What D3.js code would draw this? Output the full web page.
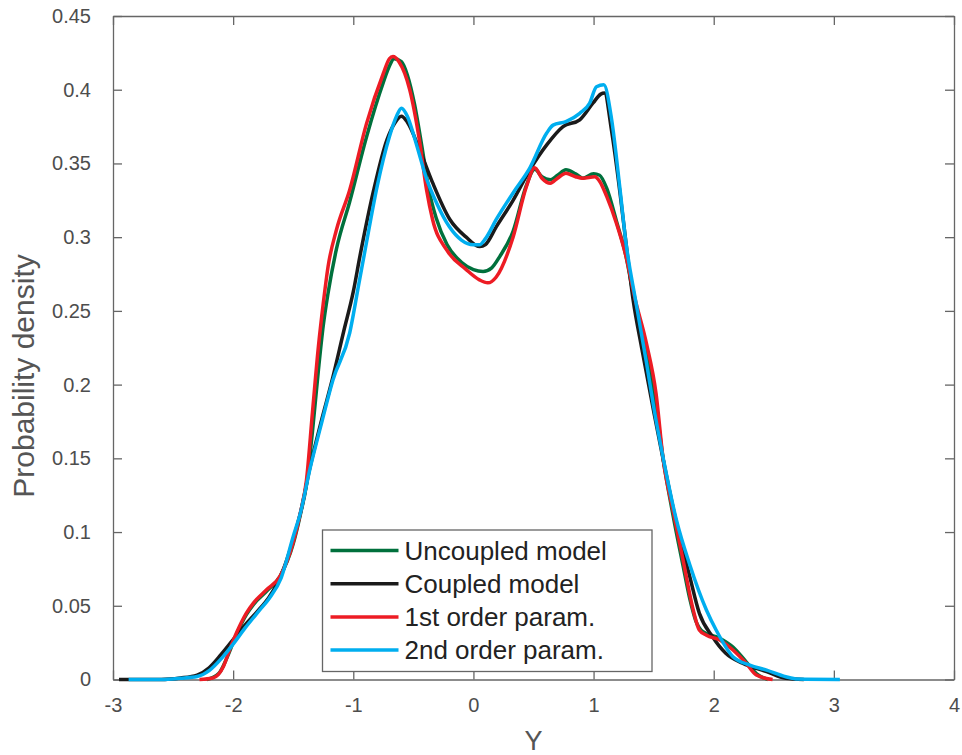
<!DOCTYPE html>
<html>
<head>
<meta charset="utf-8">
<script src="https://cdn.jsdelivr.net/npm/d3@7"></script>
<style>
  body { margin: 0; background: #fff; }
  svg { display: block; font-family: "Liberation Sans", Arial, sans-serif; }
</style>
</head>
<body>
<svg id="chart" width="962" height="755"></svg>
<script>
const xTicks = [-3, -2, -1, 0, 1, 2, 3, 4];
const yTicks = [0, 0.05, 0.1, 0.15, 0.2, 0.25, 0.3, 0.35, 0.4, 0.45];

// [Y, density]
const uncoupled = [[-2.22,0],[-2.12,0.004],[-2.05,0.015],[-1.97,0.031],[-1.89,0.044],[-1.83,0.051],[-1.72,0.06],[-1.61,0.07],[-1.5,0.092],[-1.44,0.112],[-1.39,0.132],[-1.34,0.168],[-1.29,0.21],[-1.25,0.24],[-1.21,0.262],[-1.14,0.292],[-1.03,0.324],[-0.89,0.368],[-0.75,0.405],[-0.7,0.416],[-0.66,0.421],[-0.6,0.419],[-0.55,0.41],[-0.49,0.39],[-0.43,0.362],[-0.37,0.332],[-0.31,0.313],[-0.22,0.295],[-0.1,0.283],[0,0.278],[0.08,0.2767],[0.15,0.279],[0.22,0.287],[0.33,0.304],[0.44,0.335],[0.51,0.346],[0.57,0.341],[0.64,0.339],[0.7,0.342],[0.77,0.3457],[0.85,0.343],[0.91,0.34],[1.0,0.343],[1.05,0.342],[1.11,0.333],[1.19,0.311],[1.27,0.287],[1.34,0.257],[1.44,0.221],[1.52,0.186],[1.58,0.149],[1.66,0.112],[1.745,0.077],[1.8,0.055],[1.85,0.04],[1.91,0.0324],[2.05,0.028],[2.16,0.022],[2.27,0.012],[2.355,0.004],[2.45,0]];

const coupled = [[-2.95,0],[-2.6,0],[-2.44,0.001],[-2.3,0.003],[-2.2,0.008],[-2.1,0.017],[-2.0,0.027],[-1.9,0.037],[-1.8,0.046],[-1.7,0.056],[-1.6,0.071],[-1.5,0.095],[-1.44,0.113],[-1.36,0.144],[-1.27,0.174],[-1.17,0.205],[-1.08,0.236],[-1.0,0.263],[-0.945,0.287],[-0.83,0.332],[-0.72,0.366],[-0.65,0.378],[-0.6,0.382],[-0.55,0.378],[-0.446,0.359],[-0.34,0.337],[-0.196,0.312],[-0.06,0.3],[0.053,0.2936],[0.1,0.295],[0.19,0.307],[0.33,0.325],[0.47,0.3457],[0.61,0.3626],[0.746,0.375],[0.885,0.3796],[0.996,0.391],[1.06,0.397],[1.09,0.3977],[1.15,0.372],[1.22,0.33],[1.27,0.296],[1.33,0.257],[1.4,0.225],[1.5,0.182],[1.58,0.149],[1.69,0.106],[1.8,0.07],[1.88,0.045],[1.99,0.029],[2.1,0.0178],[2.24,0.011],[2.44,0.0053],[2.6,0.0008],[2.75,0]];

const firstOrder = [[-2.28,0],[-2.17,0.001],[-2.08,0.009],[-2.03,0.02],[-1.97,0.032],[-1.89,0.045],[-1.83,0.052],[-1.72,0.061],[-1.61,0.07],[-1.5,0.093],[-1.44,0.113],[-1.39,0.135],[-1.34,0.181],[-1.29,0.226],[-1.25,0.255],[-1.21,0.28],[-1.14,0.305],[-1.03,0.332],[-0.89,0.377],[-0.75,0.411],[-0.7,0.421],[-0.67,0.4225],[-0.62,0.419],[-0.53,0.4],[-0.45,0.366],[-0.39,0.332],[-0.34,0.312],[-0.22,0.291],[-0.06,0.278],[0.05,0.271],[0.12,0.269],[0.19,0.273],[0.33,0.3],[0.44,0.334],[0.51,0.347],[0.57,0.34],[0.64,0.3366],[0.7,0.34],[0.77,0.3434],[0.85,0.341],[0.91,0.34],[1.01,0.341],[1.05,0.338],[1.11,0.3275],[1.19,0.3095],[1.27,0.287],[1.34,0.26],[1.44,0.228],[1.52,0.194],[1.58,0.149],[1.66,0.115],[1.745,0.081],[1.83,0.047],[1.88,0.0336],[1.94,0.03],[2.05,0.0268],[2.16,0.02],[2.27,0.011],[2.355,0.003],[2.49,0]];

const secondOrder = [[-2.87,0],[-2.6,0],[-2.44,0.0008],[-2.3,0.002],[-2.2,0.006],[-2.1,0.014],[-2.0,0.024],[-1.9,0.035],[-1.78,0.047],[-1.7,0.055],[-1.6,0.069],[-1.5,0.097],[-1.44,0.113],[-1.36,0.143],[-1.27,0.172],[-1.17,0.203],[-1.03,0.235],[-0.95,0.27],[-0.9,0.292],[-0.8,0.335],[-0.7,0.368],[-0.64,0.382],[-0.6,0.3875],[-0.55,0.382],[-0.5,0.37],[-0.45,0.356],[-0.4,0.342],[-0.3,0.322],[-0.2,0.307],[-0.1,0.298],[0,0.2948],[0.05,0.2948],[0.1,0.299],[0.19,0.312],[0.33,0.33],[0.47,0.347],[0.61,0.3706],[0.663,0.376],[0.77,0.3784],[0.885,0.384],[0.968,0.391],[1.024,0.402],[1.085,0.4033],[1.15,0.38],[1.218,0.334],[1.27,0.296],[1.35,0.257],[1.44,0.215],[1.5,0.185],[1.58,0.15],[1.69,0.108],[1.8,0.078],[1.94,0.047],[2.02,0.0336],[2.16,0.0155],[2.3,0.0098],[2.44,0.0064],[2.6,0.0019],[2.7,0.0003],[3.05,0]];

const seriesNames = ["Uncoupled model", "Coupled model", "1st order param.", "2nd order param."];
const seriesColors = ["#00703c", "#1a1a1a", "#ed1c24", "#00aeef"];
const seriesData = [uncoupled, coupled, firstOrder, secondOrder];

const plot = {left: 113, right: 954, top: 16, bottom: 679.5};
const axisColor = "#666";
const labelColor = "#4d4d4d";

const svg = d3.select("#chart");

const xScale = d3.scaleLinear().domain([-3, 4]).range([plot.left, plot.right]);
const yScale = d3.scaleLinear().domain([0, 0.45]).range([plot.bottom, plot.top]);

const fmt = d => String(+d.toFixed(2));

function styleAxis(g) {
    g.attr("font-family", null);
    g.select(".domain").attr("stroke", axisColor).attr("stroke-width", 1.3);
    g.selectAll(".tick line").attr("stroke", axisColor).attr("stroke-width", 1.3);
    g.selectAll(".tick text")
        .attr("fill", labelColor)
        .style("font-size", "20px");
}

// bottom & left with labels, top & right with ticks only (box on)
svg.append("g")
    .attr("transform", `translate(0, ${plot.bottom})`)
    .call(d3.axisBottom(xScale).tickValues(xTicks).tickFormat(fmt)
        .tickSizeInner(-9).tickSizeOuter(0).tickPadding(18))
    .call(styleAxis);

svg.append("g")
    .attr("transform", `translate(0, ${plot.top})`)
    .call(d3.axisTop(xScale).tickValues(xTicks).tickFormat("")
        .tickSizeInner(-9).tickSizeOuter(0))
    .call(styleAxis);

svg.append("g")
    .attr("transform", `translate(${plot.left}, 0)`)
    .call(d3.axisLeft(yScale).tickValues(yTicks).tickFormat(fmt)
        .tickSizeInner(-9).tickSizeOuter(0).tickPadding(22))
    .call(styleAxis);

svg.append("g")
    .attr("transform", `translate(${plot.right}, 0)`)
    .call(d3.axisRight(yScale).tickValues(yTicks).tickFormat("")
        .tickSizeInner(-9).tickSizeOuter(0))
    .call(styleAxis);

// axis labels
svg.append("text")
    .attr("x", (plot.left + plot.right) / 2)
    .attr("y", 750)
    .attr("text-anchor", "middle")
    .attr("fill", "#555")
    .style("font-size", "27px")
    .text("Y");

svg.append("text")
    .attr("transform", "translate(34, 376) rotate(-90)")
    .attr("text-anchor", "middle")
    .attr("fill", "#555")
    .style("font-size", "30px")
    .text("Probability density");

// curves
const line = d3.line()
    .x(d => xScale(d[0]))
    .y(d => yScale(d[1]))
    .curve(d3.curveMonotoneX);

svg.append("g")
    .selectAll("path")
    .data(seriesData)
    .join("path")
        .attr("d", line)
        .attr("fill", "none")
        .attr("stroke", (d, i) => seriesColors[i])
        .attr("stroke-width", 3.5)
        .attr("stroke-linejoin", "round");

// legend
const legend = svg.append("g").attr("transform", "translate(322.5, 530)");

legend.append("rect")
    .attr("width", 329.5)
    .attr("height", 141.5)
    .attr("fill", "#fff")
    .attr("stroke", axisColor)
    .attr("stroke-width", 1.3);

const rows = legend.selectAll(".legendRow")
    .data(seriesNames)
    .join("g")
        .classed("legendRow", true)
        .attr("transform", (d, i) => `translate(0, ${20.5 + i * 33.2})`);

rows.append("line")
    .attr("x1", 8).attr("x2", 76)
    .attr("stroke", (d, i) => seriesColors[i])
    .attr("stroke-width", 3.5);

rows.append("text")
    .attr("x", 82)
    .attr("dy", "0.36em")
    .attr("fill", "#222")
    .style("font-size", "26px")
    .text(d => d);
</script>
</body>
</html>
